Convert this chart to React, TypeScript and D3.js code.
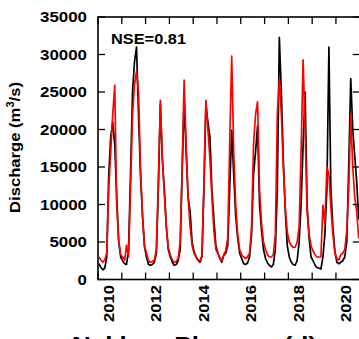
import * as d3 from 'd3';

// monthly discharge (m3/s), Jan 2010 .. Dec 2020
const years = [2010, 2011, 2012, 2013, 2014, 2015, 2016, 2017, 2018, 2019, 2020];

const observed = [
  2100, 1600, 1300, 1500, 3000, 14000, 19000, 21000, 18000, 11000, 5000, 3000,
  2500, 2100, 2000, 4000, 14000, 25000, 29000, 31000, 22000, 14000, 8500, 4500,
  3000, 2000, 1900, 2000, 2300, 3500, 12000, 23400, 16000, 12000, 7000, 4000,
  3000, 2300, 1900, 2000, 2500, 4000, 14000, 24000, 17000, 11000, 9000, 5000,
  3700, 3000, 2600, 2300, 3000, 12000, 23400, 21000, 19000, 12000, 8000, 4500,
  3500, 2800, 2300, 3200, 3500, 4500, 12000, 19900, 14000, 8500, 5500, 3500,
  2800, 2100, 2000, 2200, 3000, 6000, 14000, 17000, 20500, 10000, 6500, 4000,
  2800, 2200, 1900, 1670, 2000, 4000, 12000, 32300, 25000, 16000, 9000, 4500,
  3000, 2300, 2000, 1900, 2500, 5000, 10000, 18000, 25000, 10000, 5500, 3000,
  2500, 1900, 1600, 1500, 1400, 3000, 6000, 12000, 31000, 12000, 7000, 3800,
  2300, 2100, 2300, 2500, 3000, 5000, 15000, 26800, 20000, 16500, 13000, 8000,
];

const simulated = [
  3000, 2600, 2300, 2600, 3500, 12000, 17000, 22000, 25900, 10000, 5200, 3300,
  3000, 2600, 4600, 3000, 12000, 22000, 26000, 27700, 25000, 15000, 8500, 4500,
  3500, 2500, 2300, 2400, 2600, 4000, 13000, 23900, 16000, 11500, 7000, 4200,
  3300, 2600, 2300, 2400, 2800, 5000, 15000, 26600, 18000, 11000, 7000, 4500,
  3500, 3000, 2600, 2500, 3200, 13000, 23900, 20000, 16000, 11000, 6500, 4000,
  3500, 2900, 2500, 3300, 3800, 5500, 18000, 29800, 17000, 10000, 6000, 4000,
  3300, 3000, 2800, 3000, 3500, 7000, 18000, 22000, 23700, 12000, 7500, 5000,
  4000, 3300, 3000, 3000, 3300, 6000, 22000, 26700, 22000, 15000, 9500, 6300,
  5000, 4500, 4300, 4300, 5000, 7000, 17000, 29300, 20000, 9000, 6000, 4500,
  3800, 3300, 3000, 3000, 3000, 9900, 7400, 15000, 14000, 9700, 6000, 3500,
  2800, 2600, 3300, 3500, 4000, 6500, 12000, 22000, 15000, 11000, 9000, 5500,
];

const yTicks = [0, 5000, 10000, 15000, 20000, 25000, 30000, 35000];
const yearLabels = [2010, 2012, 2014, 2016, 2018, 2020];
const nseLabel = 'NSE=0.81';
const stationTitle = 'Nakhon Phanom (d)';

const W = 359;
const H = 339;
const FONT = "'Liberation Sans', Arial, Helvetica, sans-serif";

export default function App() {
  const x = d3
    .scaleTime()
    .domain([new Date(2010, 0, 1), new Date(2021, 0, 1)])
    .range([98, 359.8]);
  const y = d3.scaleLinear().domain([0, 35000]).range([279.5, 17]);

  const dates = years.flatMap((yr) => d3.range(12).map((m) => new Date(yr, m, 15)));
  const line = d3
    .line<number>()
    .x((_, i) => x(dates[i]))
    .y((d) => y(d));

  const yearTicks = years.concat([2021]).map((yr) => new Date(yr, 0, 1));
  const [x0, x1] = x.range();
  const [y0, y1] = y.range();

  return (
    <div style={{ position: 'fixed', left: 0, top: 0 }}>
      <svg width={W} height={H} style={{ display: 'block', background: '#fff' }}>
        <defs>
          <clipPath id="plot">
            <rect x={x0} y={y1} width={x1 - x0} height={y0 - y1} />
          </clipPath>
        </defs>

        <g clipPath="url(#plot)" fill="none" strokeLinejoin="round">
          <path d={line(observed) ?? ''} stroke="#000" strokeWidth={1.7} />
          <path d={line(simulated) ?? ''} stroke="#ff0000" strokeWidth={1.7} />
        </g>

        {/* frame */}
        <rect x={x0} y={y1} width={x1 - x0} height={y0 - y1} fill="none" stroke="#000" strokeWidth={1.6} />

        {/* year ticks, bottom and top, pointing in */}
        {yearTicks.map((d) => (
          <g key={+d} stroke="#000" strokeWidth={1.3}>
            <line x1={x(d)} x2={x(d)} y1={y0} y2={y0 - 7} />
            <line x1={x(d)} x2={x(d)} y1={y1} y2={y1 + 7} />
          </g>
        ))}

        {/* value ticks, left and right */}
        {yTicks.map((v) => (
          <g key={v}>
            <line x1={x0} x2={x0 + 7} y1={y(v)} y2={y(v)} stroke="#000" strokeWidth={1.3} />
            <line x1={x1} x2={x1 - 7} y1={y(v)} y2={y(v)} stroke="#000" strokeWidth={1.3} />
            <text
              x={87}
              y={y(v)}
              textAnchor="end"
              dominantBaseline="central"
              fontFamily={FONT}
              fontWeight="bold"
              fontSize={14.5}
              textLength={String(v).length * 9.4}
              lengthAdjust="spacingAndGlyphs"
            >
              {v}
            </text>
          </g>
        ))}

        {yearLabels.map((yr) => {
          const tx = x(new Date(yr, 0, 1)) + 10;
          return (
            <text
              key={yr}
              transform={`translate(${tx},285) rotate(-90)`}
              textAnchor="end"
              dominantBaseline="central"
              fontFamily={FONT}
              fontWeight="bold"
              fontSize={15.5}
              textLength={37}
              lengthAdjust="spacingAndGlyphs"
            >
              {yr}
            </text>
          );
        })}

        <text
          x={111}
          y={43.5}
          fontFamily={FONT}
          fontWeight="bold"
          fontSize={15.5}
          textLength={75}
          lengthAdjust="spacingAndGlyphs"
        >
          {nseLabel}
        </text>

        <text
          transform="translate(20,147.5) rotate(-90)"
          textAnchor="middle"
          fontFamily={FONT}
          fontWeight="bold"
          fontSize={15}
          textLength={131}
          lengthAdjust="spacingAndGlyphs"
        >
          Discharge (m<tspan fontSize={10} dy={-6}>3</tspan>
          <tspan dy={6}>/s)</tspan>
        </text>

        <text
          x={194.5}
          y={351}
          textAnchor="middle"
          fontFamily={FONT}
          fontWeight="bold"
          fontSize={20}
          textLength={245}
          lengthAdjust="spacingAndGlyphs"
        >
          {stationTitle}
        </text>
      </svg>
    </div>
  );
}
